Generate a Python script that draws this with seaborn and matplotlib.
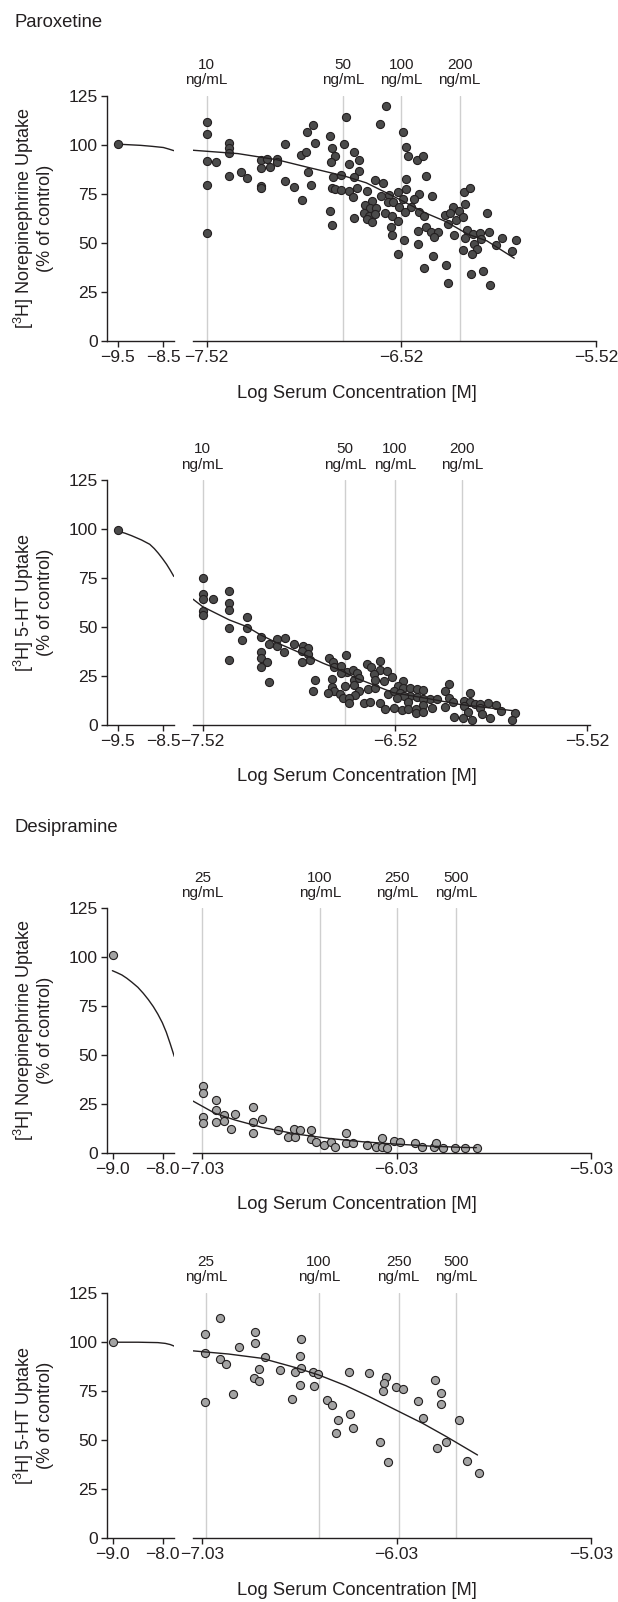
"""Reuptake inhibition vs log serum concentration (paroxetine / desipramine) -> out.png"""
import numpy as np
import pandas as pd
import matplotlib
matplotlib.use("Agg")
import matplotlib.pyplot as plt
from matplotlib.ticker import FuncFormatter
import seaborn as sns

sns.set_style("ticks")
plt.rcParams["font.family"] = ["Liberation Sans", "DejaVu Sans"]
plt.rcParams["mathtext.fontset"] = "custom"
plt.rcParams["mathtext.rm"] = "Liberation Sans"
plt.rcParams["axes.unicode_minus"] = True

# ── data ─────────────────────────────────────────────────────────────────────
# Paroxetine, [3H] norepinephrine uptake
p1_x = [-7.52, -7.52, -7.52, -7.472, -7.52, -7.52, -7.404, -7.404, -7.404, -7.404,
        -7.342, -7.314, -7.239, -7.208, -7.239, -7.195, -7.157, -7.157, -7.239, -7.239,
        -7.119, -7.119, -7.071, -7.028, -7.003, -6.974, -6.963, -7.034, -7.008, -7.001,
        -6.984, -6.886, -6.878, -6.861, -6.879, -6.869, -6.874, -6.859, -6.884, -6.874,
        -6.804, -6.816, -6.831, -6.830, -6.787, -6.761, -6.739, -6.736, -6.764, -6.787,
        -6.746, -6.768, -6.765,
        -6.600, -6.628, -6.511, -6.496, -6.485, -6.441, -6.408, -6.391, -6.653, -6.616,
        -6.694, -6.494, -6.494, -6.535, -6.581, -6.626, -6.431, -6.364, -6.456, -6.511,
        -6.590, -6.561, -6.670, -6.706, -6.681, -6.650, -6.530, -6.472, -6.502, -6.429,
        -6.401, -6.711, -6.684, -6.653, -6.604, -6.568, -6.694, -6.672, -6.537, -6.573,
        -6.566, -6.504, -6.538, -6.432, -6.395, -6.369, -6.333, -6.352, -6.432, -6.357,
        -6.405, -6.293, -6.278, -6.199, -6.168, -6.192, -6.252, -6.222, -6.297, -6.270,
        -6.239, -6.201, -6.278, -6.251, -6.079, -6.184, -6.192, -6.153, -6.114, -6.071,
        -6.112, -6.146, -6.132, -6.201, -6.156, -6.001, -6.035, -5.932, -5.951, -6.160,
        -6.100, -6.066]
p1_y = [111.8, 105.3, 91.7, 91.4, 79.5, 54.8, 100.7, 98.5, 95.6, 84.1,
        85.9, 82.9, 92.2, 92.7, 88.0, 88.8, 92.9, 91.4, 79.1, 77.8,
        100.5, 81.7, 78.5, 71.8, 106.5, 110.2, 100.7, 94.8, 96.1, 86.1,
        79.5, 104.5, 98.3, 94.4, 91.0, 83.6, 77.8, 77.4, 66.1, 59.1,
        114.3, 100.5, 84.6, 76.9, 90.2, 96.5, 92.0, 86.4, 83.4, 76.4,
        77.9, 73.2, 62.7,
        119.9, 110.4, 106.3, 99.0, 94.4, 92.2, 94.4, 84.2, 82.0, 80.3,
        76.6, 82.4, 77.4, 75.9, 74.4, 73.9, 74.7, 74.0, 72.5, 72.2,
        71.0, 70.6, 71.5, 69.3, 67.6, 67.6, 68.4, 68.1, 65.9, 65.5,
        63.7, 65.0, 63.8, 64.5, 65.4, 63.8, 62.0, 60.4, 61.3, 58.2,
        54.0, 51.4, 44.3, 56.0, 58.2, 55.4, 55.4, 52.8, 49.2, 43.3,
        37.3, 38.5, 29.7, 75.9, 78.0, 69.6, 68.4, 66.2, 64.2, 65.0,
        61.6, 63.3, 59.6, 53.8, 65.2, 56.5, 52.6, 54.3, 54.8, 55.4,
        51.8, 49.4, 46.7, 46.2, 44.3, 52.5, 48.7, 51.4, 46.0, 34.1,
        35.6, 28.5]
p1_ctrl_x, p1_ctrl_y = [-9.5], [100.2]
p1_fit_lo_x = [-9.5, -9.0, -8.75, -8.5, -8.38, -8.27]
p1_fit_lo_y = [100.3, 99.7, 99.2, 98.6, 97.8, 97.0]
p1_fit_hi_x = [-7.59, -7.36, -7.16, -7.00, -6.81, -6.70, -6.55, -6.39, -6.29, -6.18, -6.08, -5.94]
p1_fit_hi_y = [97.2, 95.5, 92.4, 88.5, 84.0, 80.6, 73.2, 65.0, 60.8, 54.5, 51.0, 42.2]
p1_conc_x = [-7.52, -6.82, -6.52, -6.22]
p1_conc = ["10", "50", "100", "200"]

# Paroxetine, [3H] 5-HT uptake
p2_x = [-7.517, -7.517, -7.517, -7.468, -7.517, -7.517, -7.381, -7.381, -7.381, -7.381,
        -7.381, -7.291, -7.291, -7.316, -7.217, -7.217, -7.217, -7.187, -7.217, -7.175,
        -7.173, -7.132, -7.094, -7.132, -7.095, -7.047, -6.997, -6.971, -7.005, -6.974,
        -6.959, -7.002, -6.936, -6.948, -6.861, -6.844, -6.837, -6.802, -6.775, -6.768,
        -6.740, -6.719, -6.799, -6.846, -6.733, -6.778, -6.849, -6.733, -6.705, -6.837,
        -6.868, -6.806, -6.707, -6.726, -6.789, -6.758, -6.761,
        -6.664, -6.645, -6.596, -6.598, -6.563, -6.626, -6.537, -6.621, -6.575, -6.660,
        -6.624, -6.555, -6.679, -6.650, -6.598, -6.570, -6.477, -6.506, -6.477, -6.442,
        -6.404, -6.373, -6.523, -6.494, -6.442, -6.473, -6.404, -6.335, -6.300, -6.373,
        -6.511, -6.451, -6.373, -6.525, -6.485, -6.451, -6.411, -6.329, -6.411, -6.373,
        -6.238, -6.260, -6.241, -6.217, -6.257, -6.210, -6.127, -6.161, -6.130, -6.101,
        -6.075, -6.038, -5.995, -6.161, -6.141, -6.165, -6.121, -6.078, -6.066, -6.026,
        -5.966, -5.893, -5.913]
p2_y = [75.2, 66.7, 64.3, 64.1, 58.3, 56.1, 68.5, 62.1, 58.7, 49.3,
        33.1, 54.9, 49.7, 43.3, 44.7, 37.4, 34.0, 32.3, 29.4, 41.5,
        21.9, 43.9, 44.2, 40.5, 37.4, 41.2, 40.5, 39.1, 37.9, 36.0,
        33.1, 32.3, 22.8, 17.3, 34.0, 31.9, 29.4, 30.1, 35.7, 27.2,
        27.9, 26.3, 26.3, 23.3, 23.1, 20.0, 19.5, 20.4, 23.8, 17.3,
        16.5, 15.6, 17.3, 15.3, 13.9, 13.9, 11.2,
        31.1, 29.4, 32.6, 27.9, 27.5, 25.8, 24.5, 22.9, 22.6, 18.2,
        18.7, 15.6, 11.0, 11.5, 11.0, 8.1, 22.4, 20.0, 19.0, 18.7,
        18.4, 17.9, 17.3, 16.1, 14.9, 14.9, 14.4, 13.2, 13.2, 13.2,
        13.6, 11.5, 10.2, 8.5, 7.6, 8.1, 8.1, 8.8, 5.9, 6.4,
        20.7, 17.5, 13.9, 11.5, 9.3, 4.1, 16.1, 12.2, 11.5, 10.5,
        10.5, 11.4, 10.2, 9.8, 6.8, 3.7, 2.5, 8.5, 5.4, 3.4,
        7.1, 5.9, 2.7]
p2_ctrl_x, p2_ctrl_y = [-9.5], [99.5]
p2_fit_lo_x = [-9.5, -9.35, -9.2, -8.98, -8.80, -8.70, -8.61, -8.52, -8.43, -8.35, -8.27]
p2_fit_lo_y = [98.8, 97.9, 96.6, 94.4, 92.2, 90.0, 87.6, 84.9, 82.0, 79.0, 75.8]
p2_fit_hi_x = [-7.57, -7.52, -7.381, -7.291, -7.217, -7.135, -7.066, -6.980, -6.893,
               -6.806, -6.719, -6.65, -6.529, -6.355, -6.182, -6.009, -5.905]
p2_fit_hi_y = [64.2, 60.4, 53.6, 50.2, 45.9, 42.0, 39.1, 35.4, 31.5,
               28.1, 23.8, 21.2, 16.5, 13.6, 10.5, 8.5, 7.3]
p2_conc_x = [-7.52, -6.78, -6.52, -6.17]
p2_conc = ["10", "50", "100", "200"]

# Desipramine, [3H] norepinephrine uptake
p3_x = [-7.025, -7.025, -7.025, -7.025, -6.958, -6.958, -6.958, -6.921, -6.921, -6.863,
        -6.882, -6.768, -6.768, -6.768, -6.723, -6.642, -6.589, -6.554, -6.556, -6.525,
        -6.473, -6.473, -6.444, -6.404, -6.368, -6.347, -6.289, -6.289, -6.254, -6.185,
        -6.134, -6.106, -6.106, -6.082, -6.044, -6.013, -5.937, -5.901, -5.840, -5.827,
        -5.789, -5.732, -5.678, -5.618]
p3_y = [34.3, 30.4, 18.4, 15.4, 27.0, 21.8, 15.5, 19.3, 16.4, 19.6,
        12.1, 23.2, 15.5, 10.2, 17.1, 11.4, 8.2, 7.9, 11.9, 11.6,
        11.6, 6.8, 5.5, 3.8, 5.6, 2.7, 10.2, 4.8, 4.8, 3.9,
        2.9, 7.3, 2.9, 2.4, 6.0, 5.3, 5.0, 2.9, 2.9, 5.0,
        2.4, 2.2, 2.4, 2.2]
p3_ctrl_x, p3_ctrl_y = [-9.0], [101.1]
p3_fit_lo_x = [-9.01, -8.92, -8.82, -8.72, -8.62, -8.50, -8.39, -8.29, -8.19, -8.10,
               -8.01, -7.93, -7.85, -7.77]
p3_fit_lo_y = [93.1, 92.1, 90.9, 89.2, 87.2, 84.6, 81.5, 78.3, 74.7, 70.9,
               66.5, 61.6, 55.6, 49.2]
p3_fit_hi_x = [-7.078, -6.964, -6.861, -6.723, -6.551, -6.378, -6.206, -6.034, -5.861, -5.689, -5.62]
p3_fit_hi_y = [26.4, 20.1, 16.7, 13.0, 9.6, 7.3, 5.6, 4.4, 3.4, 2.7, 2.6]
p3_conc_x = [-7.03, -6.425, -6.027, -5.726]
p3_conc = ["25", "100", "250", "500"]

# Desipramine, [3H] 5-HT uptake
p4_x = [-6.940, -7.014, -7.014, -7.014, -6.939, -6.906, -6.873, -6.839, -6.761, -6.758,
        -6.706, -6.739, -6.766, -6.740, -6.630, -6.570, -6.554, -6.528, -6.520, -6.523,
        -6.528, -6.463, -6.433, -6.456, -6.390, -6.363, -6.330, -6.340, -6.271, -6.254,
        -6.275, -6.171, -6.087, -6.097, -6.099, -6.118, -6.075, -6.034, -5.999, -5.921,
        -5.892, -5.835, -5.802, -5.804, -5.823, -5.777, -5.711, -5.668, -5.604]
p4_y = [112.1, 104.0, 94.2, 69.2, 91.4, 88.7, 73.3, 97.4, 105.2, 99.6,
        92.1, 86.0, 81.4, 79.9, 85.9, 70.9, 84.7, 93.0, 101.6, 86.7,
        77.9, 84.7, 83.5, 77.7, 70.4, 67.9, 60.4, 53.6, 63.3, 56.2,
        84.7, 84.0, 82.1, 78.9, 75.2, 49.0, 38.9, 77.0, 76.2, 69.9,
        61.3, 80.4, 73.8, 68.5, 46.0, 49.0, 60.2, 39.5, 33.1]
p4_ctrl_x, p4_ctrl_y = [-9.0], [99.7]
p4_fit_lo_x = [-9.0, -8.5, -8.1, -7.95, -7.85, -7.77]
p4_fit_lo_y = [99.8, 99.8, 99.6, 99.2, 98.6, 97.8]
p4_fit_hi_x = [-7.078, -6.896, -6.723, -6.551, -6.430, -6.292, -6.171, -6.034, -5.896, -5.775, -5.614]
p4_fit_hi_y = [95.4, 93.8, 91.6, 86.9, 83.1, 77.7, 72.1, 65.3, 58.5, 51.8, 42.4]
p4_conc_x = [-7.01, -6.43, -6.02, -5.725]
p4_conc = ["25", "100", "250", "500"]

Y_TICKS = [0, 25, 50, 75, 100, 125]
NE_LABEL = "[$\\mathregular{^3}$H] Norepinephrine Uptake\n(% of control)"
HT_LABEL = "[$\\mathregular{^3}$H] 5-HT Uptake\n(% of control)"

# ── layout (pixels of a 618x1602 canvas) ─────────────────────────────────────
W, H = 618, 1602
DARK, LIGHT = "#4b4b4b", "#a3a3a3"
INK = "#231f20"

panels = [
    dict(pts=(p1_x, p1_y), ctrl=(p1_ctrl_x, p1_ctrl_y), lo=(p1_fit_lo_x, p1_fit_lo_y),
         hi=(p1_fit_hi_x, p1_fit_hi_y), conc=(p1_conc_x, p1_conc), fill=DARK, ylabel=NE_LABEL,
         lo_lim=(-9.74, -8.26), lo_ticks=[-9.5, -8.5], hi_lim=(-7.59, -5.52),
         hi_ticks=[-7.52, -6.52, -5.52], hi_x1=596, top=95.7, bot=341.0),
    dict(pts=(p2_x, p2_y), ctrl=(p2_ctrl_x, p2_ctrl_y), lo=(p2_fit_lo_x, p2_fit_lo_y),
         hi=(p2_fit_hi_x, p2_fit_hi_y), conc=(p2_conc_x, p2_conc), fill=DARK, ylabel=HT_LABEL,
         lo_lim=(-9.74, -8.26), lo_ticks=[-9.5, -8.5], hi_lim=(-7.57, -5.505),
         hi_ticks=[-7.52, -6.52, -5.52], hi_x1=590, top=480.0, bot=725.0),
    dict(pts=(p3_x, p3_y), ctrl=(p3_ctrl_x, p3_ctrl_y), lo=(p3_fit_lo_x, p3_fit_lo_y),
         hi=(p3_fit_hi_x, p3_fit_hi_y), conc=(p3_conc_x, p3_conc), fill=LIGHT, ylabel=NE_LABEL,
         lo_lim=(-9.118, -7.77), lo_ticks=[-9.0, -8.0], hi_lim=(-7.078, -5.03),
         hi_ticks=[-7.03, -6.03, -5.03], hi_x1=591, top=908.3, bot=1152.7),
    dict(pts=(p4_x, p4_y), ctrl=(p4_ctrl_x, p4_ctrl_y), lo=(p4_fit_lo_x, p4_fit_lo_y),
         hi=(p4_fit_hi_x, p4_fit_hi_y), conc=(p4_conc_x, p4_conc), fill=LIGHT, ylabel=HT_LABEL,
         lo_lim=(-9.118, -7.77), lo_ticks=[-9.0, -8.0], hi_lim=(-7.078, -5.03),
         hi_ticks=[-7.03, -6.03, -5.03], hi_x1=591, top=1292.7, bot=1538.3),
]

fig = plt.figure(figsize=(W / 100, H / 100), dpi=100)


def add_ax(x0, x1, top, bot):
    return fig.add_axes([x0 / W, 1 - bot / H, (x1 - x0) / W, (bot - top) / H])


def minus_fmt(nd):
    return FuncFormatter(lambda v, p: f"{v:.{nd}f}".replace("-", "\u2212"))


def style(ax, left_spine):
    for s in ["top", "right"]:
        ax.spines[s].set_visible(False)
    ax.spines["left"].set_visible(left_spine)
    for s in ["left", "bottom"]:
        ax.spines[s].set_color(INK)
        ax.spines[s].set_linewidth(1.0)
    ax.tick_params(length=4.5, width=1.0, pad=2, labelsize=12.6, colors=INK)
    ax.set_facecolor("none")


fig.text(15 / W, 1 - 27.3 / H, "Paroxetine", fontsize=13.3, color=INK, va="baseline", ha="left")
fig.text(15 / W, 1 - 832 / H, "Desipramine", fontsize=13.3, color=INK, va="baseline", ha="left")

for p in panels:
    # ── low-dose segment ──
    axl = add_ax(107, 174.3, p["top"], p["bot"])
    style(axl, True)
    sns.lineplot(x=p["lo"][0], y=p["lo"][1], ax=axl, color=INK, linewidth=1.0,
                 estimator=None, sort=False)
    sns.scatterplot(x=p["ctrl"][0], y=p["ctrl"][1], ax=axl, color=p["fill"], edgecolor=INK,
                    linewidth=0.8, s=34, legend=False, zorder=3, clip_on=False)
    axl.set_xlim(*p["lo_lim"])
    axl.set_ylim(0, 125)
    axl.set_xticks(p["lo_ticks"])
    axl.xaxis.set_major_formatter(minus_fmt(1))
    axl.set_yticks(Y_TICKS)
    axl.set_xlabel("")
    axl.set_ylabel("")

    # ── serum-concentration segment ──
    axr = add_ax(193, p["hi_x1"], p["top"], p["bot"])
    style(axr, False)
    for cx, lab in zip(*p["conc"]):
        axr.axvline(cx, color="#cfcfcf", linewidth=1.0, zorder=0)
        axr.annotate(f"{lab}\nng/mL", xy=(cx, 1), xycoords=("data", "axes fraction"),
                     xytext=(0, 6), textcoords="offset points", ha="center", va="bottom",
                     fontsize=11, color=INK, linespacing=1.12)
    df = pd.DataFrame({"x": p["pts"][0], "y": p["pts"][1]})
    sns.scatterplot(data=df, x="x", y="y", ax=axr, color=p["fill"], edgecolor=INK,
                    linewidth=0.8, s=34, legend=False, zorder=3, clip_on=False)
    sns.lineplot(x=p["hi"][0], y=p["hi"][1], ax=axr, color=INK, linewidth=1.0,
                 estimator=None, sort=False, zorder=4)
    axr.set_xlim(*p["hi_lim"])
    axr.set_ylim(0, 125)
    axr.set_xticks(p["hi_ticks"])
    axr.xaxis.set_major_formatter(minus_fmt(2))
    axr.set_yticks([])
    axr.set_xlabel("")
    axr.set_ylabel("")

    mid = (p["top"] + p["bot"]) / 2
    fig.text(33 / W, 1 - mid / H, p["ylabel"], rotation=90, ha="center", va="center",
             multialignment="center", fontsize=13, color=INK, linespacing=1.12)
    fig.text(357 / W, 1 - (p["bot"] + 52) / H, "Log Serum Concentration [M]",
             ha="center", va="center", fontsize=13.2, color=INK)

fig.savefig("out.png", dpi=100)
